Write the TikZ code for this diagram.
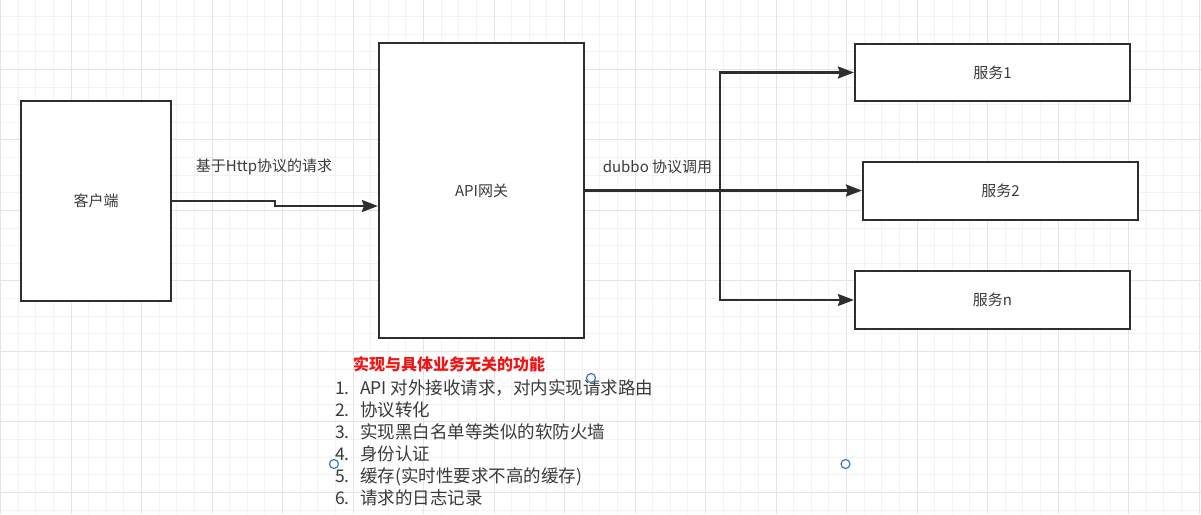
\documentclass[tikz,border=0pt]{standalone}
\usepackage{fontspec}
\setmainfont{Noto Sans CJK SC}
\usetikzlibrary{arrows.meta}
\definecolor{gridminor}{HTML}{F3F3F3}
\definecolor{gridmajor}{HTML}{E4E4E4}
\definecolor{ink}{HTML}{2E2E2E}
\definecolor{txt}{HTML}{3A3A3A}
\definecolor{hred}{HTML}{F01515}
\definecolor{handle}{HTML}{3F74D6}
\tikzset{
  boxnode/.style={draw=ink, line width=2.2pt, fill=white, inner sep=0pt, font=\fontsize{15}{18}\selectfont, text=txt},
  arr/.style={draw=ink, line width=2.2pt, -{Stealth[length=16pt,width=12pt,inset=2pt]}},
  lbl/.style={font=\fontsize{15}{18}\selectfont, text=txt, inner sep=0pt},
  item/.style={font=\fontsize{17.5}{20}\selectfont, text=txt, inner sep=0pt, anchor=base west},
  hnd/.style={draw=handle, line width=1.2pt, fill=white, circle, inner sep=0pt, minimum size=9pt}
}
\begin{document}
\begin{tikzpicture}[x=1pt,y=-1pt]
\useasboundingbox (0,0) rectangle (1201,514);
\fill[white] (0,0) rectangle (1201,514);
% grid
\foreach \i in {0,...,69} {
  \draw[gridminor, line width=0.8pt] ({0.5+17.625*\i},0) -- ({0.5+17.625*\i},514);
}
\foreach \j in {0,...,30} {
  \draw[gridminor, line width=0.8pt] (0,{16.4+17.625*\j}) -- (1201,{16.4+17.625*\j});
}
\foreach \i in {0,...,17} {
  \draw[gridmajor, line width=1pt] ({0.5+70.5*\i},0) -- ({0.5+70.5*\i},514);
}
\foreach \j in {1,...,8} {
  \draw[gridmajor, line width=1pt] (0,{-1.2+70.5*\j}) -- (1201,{-1.2+70.5*\j});
}
% boxes
\node[boxnode, minimum width=150pt, minimum height=200pt] (client) at (96,201) {客户端};
\node[boxnode, minimum width=205pt, minimum height=295pt] (api) at (481.5,190.5) {API网关};
\node[boxnode, minimum width=275pt, minimum height=57pt] (s1) at (992.5,72.5) {服务1};
\node[boxnode, minimum width=275pt, minimum height=58pt] (s2) at (1000.5,191) {服务2};
\node[boxnode, minimum width=275pt, minimum height=58pt] (sn) at (992.5,300) {服务n};
% client -> api
\coordinate (k1) at (275,201);
\coordinate (k2) at (275,206);
\draw[arr] (client.east) -- (k1) -- (k2) -- (k2 -| api.west);
\node[lbl] (l1) at (264,167) {基于Http协议的请求};
% api -> services
\coordinate (br) at (720,190.5);
\draw[arr] (api.east) -- (api.east -| s2.west);
\draw[arr] (br) |- (s1.west);
\draw[arr] (br) |- (sn.west);
\node[lbl] (l2) at (657.5,166.5) {dubbo 协议调用};
% notes
\node[font=\fontsize{16}{19}\selectfont\bfseries, text=hred, inner sep=0pt] (title) at (449,364) {实现与具体业务无关的功能};
\node[item] (n1) at (335,394.5) {1.};
\node[item] (t1) at (360,394.5) {API 对外接收请求，对内实现请求路由};
\node[item] (n2) at (335,416.5) {2.};
\node[item] (t2) at (360,416.5) {协议转化};
\node[item] (n3) at (335,438.5) {3.};
\node[item] (t3) at (360,438.5) {实现黑白名单等类似的软防火墙};
\node[item] (n4) at (335,460.5) {4.};
\node[item] (t4) at (360,460.5) {身份认证};
\node[item] (n5) at (335,482.5) {5.};
\node[item] (t5) at (360,482.5) {缓存(实时性要求不高的缓存)};
\node[item] (n6) at (335,504.5) {6.};
\node[item] (t6) at (360,504.5) {请求的日志记录};
% selection handles
\node[hnd] (h1) at (591,378) {};
\node[hnd] (h2) at (334,464) {};
\node[hnd] (h3) at (845.5,464) {};
\end{tikzpicture}
\end{document}
